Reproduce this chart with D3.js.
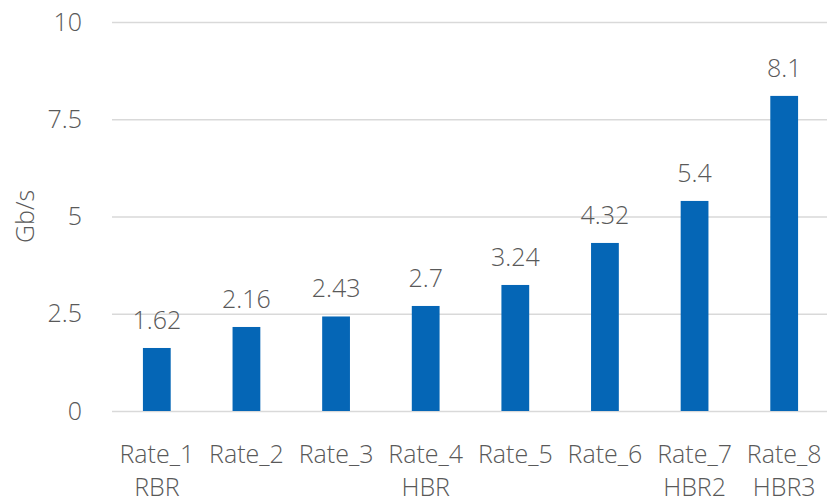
<!DOCTYPE html>
<html>
<head>
<meta charset="utf-8">
<script src="https://cdn.jsdelivr.net/npm/d3@7"></script>
<style>
  body { margin: 0; background: #fff; }
  svg text { font-family: "Open Sans", "Noto Sans", sans-serif; fill: #595959; }
</style>
</head>
<body>
<div id="chart"></div>
<script>
'use strict';
const rateNames = ["Rate_1", "Rate_2", "Rate_3", "Rate_4", "Rate_5", "Rate_6", "Rate_7", "Rate_8"];
const rateTags = ["RBR", "", "", "HBR", "", "", "HBR2", "HBR3"];
const gbps = [1.62, 2.16, 2.43, 2.7, 3.24, 4.32, 5.4, 8.1];
const yTicks = [0, 2.5, 5, 7.5, 10];

const width = 827, height = 502;
const plotLeft = 112, plotRight = 829, plotTop = 22, plotBottom = 411;
const fontSize = "25px";

let svg = d3.select("#chart").append("svg")
  .attr("width", width)
  .attr("height", height);

let x = d3.scaleBand()
  .domain(rateNames)
  .range([plotLeft, plotRight])
  .paddingInner(0.69)
  .paddingOuter(0.345);

let y = d3.scaleLinear()
  .domain([0, 10])
  .range([plotBottom, plotTop]);

// gridlines + y labels
let yAxis = d3.axisLeft(y)
  .tickValues(yTicks)
  .tickSize(-(plotRight - plotLeft))
  .tickPadding(30)
  .tickFormat(d => d);
let yg = svg.append("g")
  .attr("transform", "translate(" + plotLeft + ",0)")
  .call(yAxis);
yg.select(".domain").remove();
yg.selectAll(".tick line").attr("stroke", "#d9d9d9").attr("stroke-width", 1.3);
yg.selectAll(".tick text")
  .attr("font-size", fontSize)
  .attr("font-weight", 300)
  .style("fill", "#595959");

// bars
svg.append("g")
  .selectAll("rect")
  .data(gbps)
  .enter()
  .append("rect")
  .attr("x", (d, i) => x(rateNames[i]))
  .attr("y", d => y(d))
  .attr("width", x.bandwidth())
  .attr("height", d => y(0) - y(d))
  .attr("fill", "#0566b6");

// value labels
svg.append("g")
  .selectAll("text")
  .data(gbps)
  .enter()
  .append("text")
  .attr("x", (d, i) => x(rateNames[i]) + x.bandwidth() / 2)
  .attr("y", d => y(d) - 19)
  .attr("text-anchor", "middle")
  .attr("font-size", fontSize)
  .attr("font-weight", 300)
  .text(d => d);

// category labels (two lines)
let cat = svg.append("g")
  .selectAll("g")
  .data(rateNames)
  .enter()
  .append("g")
  .attr("transform", d => "translate(" + (x(d) + x.bandwidth() / 2) + ",0)");
cat.append("text")
  .attr("y", 463)
  .attr("text-anchor", "middle")
  .attr("font-size", fontSize)
  .attr("font-weight", 300)
  .text(d => d);
cat.append("text")
  .attr("y", 496)
  .attr("text-anchor", "middle")
  .attr("font-size", fontSize)
  .attr("font-weight", 300)
  .text((d, i) => rateTags[i]);

// y axis title
svg.append("text")
  .attr("transform", "translate(34," + ((plotTop + plotBottom) / 2) + ") rotate(-90)")
  .attr("text-anchor", "middle")
  .attr("font-size", fontSize)
  .attr("font-weight", 300)
  .text("Gb/s");
</script>
</body>
</html>
